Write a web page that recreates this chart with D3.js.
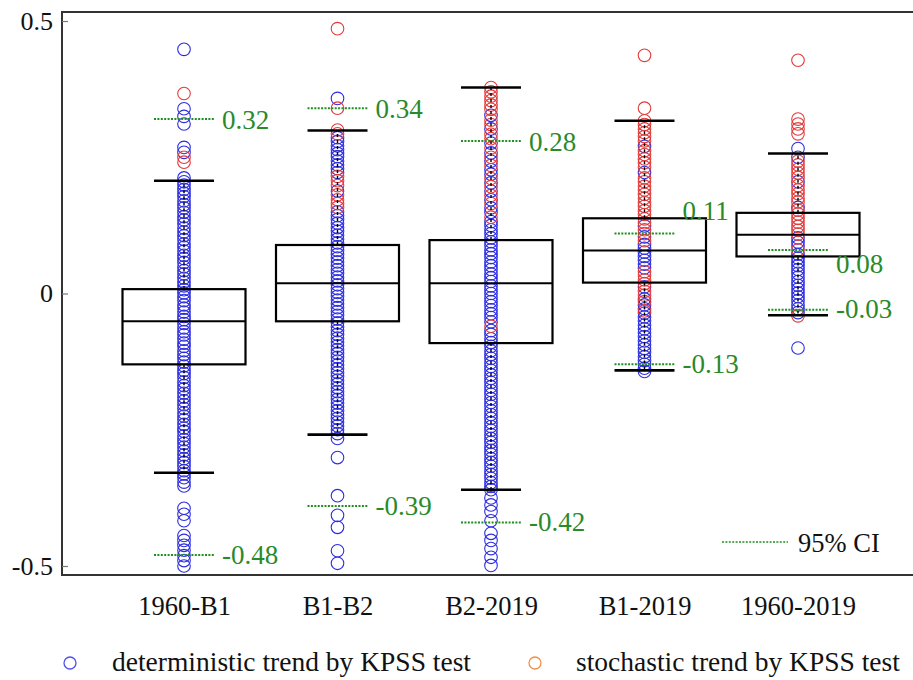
<!DOCTYPE html>
<html>
<head>
<meta charset="utf-8">
<script src="https://cdn.jsdelivr.net/npm/d3@7"></script>
<style>
  html, body { margin: 0; padding: 0; background: #fff; }
  svg { display: block; }
  svg text { font-family: "Liberation Serif", "DejaVu Serif", serif !important; }
</style>
</head>
<body>
<svg id="chart" width="913" height="680"></svg>
<script>
// Periods compared
const categories = ["1960-B1", "B1-B2", "B2-2019", "B1-2019", "1960-2019"];

// Box statistics per period
const whiskerHigh = [0.207, 0.299, 0.378, 0.317, 0.257];
const q3 = [0.008, 0.089, 0.098, 0.138, 0.148];
const median = [-0.051, 0.019, 0.019, 0.079, 0.108];
const q1 = [-0.130, -0.051, -0.091, 0.020, 0.068];
const whiskerLow = [-0.329, -0.259, -0.360, -0.141, -0.040];

// 95% confidence interval bounds
const ciHigh = [0.32, 0.34, 0.28, 0.11, 0.08];
const ciLow = [-0.48, -0.39, -0.42, -0.13, -0.03];

// Station trends, deterministic trend by KPSS test
const det1960B1 = [0.448, 0.339, 0.325, 0.311, 0.268, 0.259,
  0.212, 0.205, 0.199, 0.191, 0.184, 0.178, 0.170, 0.163, 0.157, 0.149, 0.141, 0.135, 0.128, 0.120,
  0.113, 0.106, 0.099, 0.091, 0.085, 0.078, 0.070, 0.064, 0.057, 0.049, 0.042, 0.036, 0.028, 0.021,
  0.014, 0.007, 0.001, -0.006, -0.013, -0.021, -0.027, -0.034, -0.042, -0.048, -0.055, -0.063, -0.070,
  -0.076, -0.084, -0.091, -0.097, -0.105, -0.112, -0.119, -0.126, -0.133, -0.141, -0.147, -0.154,
  -0.162, -0.169, -0.175, -0.183, -0.190, -0.197, -0.204, -0.211, -0.219, -0.225, -0.232, -0.240,
  -0.247, -0.253, -0.261, -0.268, -0.275, -0.282, -0.289, -0.296, -0.303, -0.310, -0.317, -0.325,
  -0.331, -0.338, -0.346, -0.353,
  -0.394, -0.405, -0.417, -0.444, -0.453, -0.462, -0.471, -0.481, -0.490, -0.500];
const detB1B2 = [0.358, 0.286, 0.279, 0.271, 0.264, 0.257, 0.251, 0.243, 0.236, 0.229, 0.222, 0.188,
  0.150, 0.143, 0.136, 0.129, 0.121, 0.114, 0.107, 0.100, 0.093, 0.086, 0.079, 0.072, 0.065, 0.058,
  0.051, 0.044, 0.037, 0.030, 0.023, 0.016, 0.009, 0.002, -0.005, -0.012, -0.019, -0.026, -0.033,
  -0.040, -0.047, -0.054, -0.061, -0.068, -0.075, -0.082, -0.089, -0.096, -0.103, -0.110, -0.117,
  -0.124, -0.131, -0.138, -0.145, -0.152, -0.159, -0.166, -0.173, -0.180, -0.187, -0.194, -0.201,
  -0.208, -0.215, -0.222, -0.229, -0.236, -0.243, -0.250, -0.257, -0.266,
  -0.301, -0.371, -0.407, -0.429, -0.472, -0.495];
const detB22019 = [0.327, 0.302, 0.276, 0.258, 0.243, 0.227, 0.219, 0.203, 0.188, 0.172, 0.157, 0.149,
  0.132, 0.125, 0.117, 0.110, 0.102, 0.095, 0.088, 0.080, 0.073, 0.066, 0.058, 0.051, 0.044, 0.036,
  0.029, 0.022, 0.014, 0.007, 0.000, -0.008, -0.015, -0.022, -0.030, -0.037, -0.044, -0.052, -0.068,
  -0.075, -0.083, -0.090, -0.097, -0.105, -0.112, -0.119, -0.127, -0.134, -0.141, -0.149, -0.156,
  -0.163, -0.171, -0.178, -0.185, -0.193, -0.200, -0.207, -0.215, -0.222, -0.229, -0.237, -0.244,
  -0.251, -0.259, -0.266, -0.273, -0.281, -0.288, -0.295, -0.303, -0.310, -0.317, -0.325, -0.332,
  -0.339, -0.347, -0.354, -0.360, -0.375, -0.388, -0.400, -0.417, -0.440, -0.453, -0.468, -0.484, -0.499];
const detB12019 = [0.270, 0.222, 0.124, 0.104, 0.090, 0.083, 0.076, 0.068, 0.061, 0.054, 0.047, 0.012,
  -0.010, -0.021, -0.028, -0.036, -0.043, -0.050, -0.058, -0.065, -0.072, -0.079, -0.087, -0.094,
  -0.101, -0.108, -0.116, -0.123, -0.130, -0.137, -0.143];
const det19602019 = [0.266, 0.250, 0.205, 0.158, 0.102, 0.094, 0.087, 0.072, 0.065, 0.058, 0.051, 0.044,
  0.037, 0.030, 0.022, 0.015, 0.008, 0.001, -0.006, -0.013, -0.021, -0.028, -0.035, -0.100];

// Station trends, stochastic trend by KPSS test
const sto1960B1 = [0.367, 0.250, 0.241];
const stoB1B2 = [0.486, 0.340, 0.300, 0.293, 0.215, 0.207, 0.198, 0.181, 0.172, 0.165, 0.158];
const stoB22019 = [0.378, 0.370, 0.362, 0.354, 0.346, 0.338, 0.318, 0.310, 0.292, 0.284, 0.267, 0.250,
  0.235, 0.211, 0.196, 0.180, 0.165, 0.140, -0.060];
const stoB12019 = [0.437, 0.340, 0.317, 0.310, 0.302, 0.295, 0.288, 0.280, 0.262, 0.255, 0.247, 0.240,
  0.232, 0.212, 0.205, 0.197, 0.190, 0.182, 0.175, 0.167, 0.160, 0.152, 0.145, 0.137, 0.130, 0.117,
  0.110, 0.097, 0.040, 0.033, 0.025, 0.018, 0.004, -0.003, -0.015, -0.032];
const sto19602019 = [0.428, 0.320, 0.311, 0.302, 0.293, 0.243, 0.236, 0.228, 0.221, 0.213, 0.198, 0.190,
  0.183, 0.175, 0.168, 0.153, 0.146, 0.138, 0.131, 0.123, 0.116, 0.109, 0.080, -0.041];

const deterministic = [det1960B1, detB1B2, detB22019, detB12019, det19602019];
const stochastic = [sto1960B1, stoB1B2, stoB22019, stoB12019, sto19602019];

// Y-axis tick labels
const yTicks = [-0.5, 0, 0.5];
const yTickLabels = ["-0.5", "0", "0.5"];

const legendLabels = ["deterministic trend by KPSS test", "stochastic trend by KPSS test"];
const ciLegendLabel = "95% CI";

// ---- layout ----
const serif = '"Liberation Serif", "DejaVu Serif", serif';
const svg = d3.select("#chart");
const frame = { left: 62, right: 915, top: 12, bottom: 575 };
const x = d3.scalePoint().domain(categories).range([184, 798]);
const y = d3.scaleLinear().domain([-0.5, 0.5]).range([566, 21]);
const boxHalf = 61.5, capHalf = 30, pointR = 6.3;
const blue = "#2d2de0", red = "#e23a3a", green = "#1f8f1f", greenText = "#2a8a2a";

// frame
svg.append("rect")
  .attr("x", frame.left).attr("y", frame.top)
  .attr("width", frame.right - frame.left).attr("height", frame.bottom - frame.top)
  .attr("fill", "none").attr("stroke", "#333").attr("stroke-width", 2);

// y axis (ticks point inward)
const yAxis = svg.append("g")
  .attr("transform", `translate(${frame.left},0)`)
  .call(d3.axisLeft(y).tickValues(yTicks).tickSize(-6).tickPadding(9)
    .tickFormat(d => yTickLabels[yTicks.indexOf(d)]));
yAxis.attr("font-family", null);
yAxis.select(".domain").remove();
yAxis.selectAll(".tick line").attr("stroke", "#777").attr("stroke-width", 1.2);
yAxis.selectAll(".tick text").attr("font-size", 26).attr("fill", "#111").style("font-family", serif);

// x axis labels
const xAxis = svg.append("g")
  .attr("transform", `translate(0,${frame.bottom})`)
  .call(d3.axisBottom(x).tickSize(0).tickPadding(21));
xAxis.attr("font-family", null);
xAxis.select(".domain").remove();
xAxis.selectAll(".tick text").attr("font-size", 26.5).attr("fill", "#111").style("font-family", serif);

// station points
categories.forEach((cat, i) => {
  const g = svg.append("g");
  g.selectAll("circle.det").data(deterministic[i]).join("circle")
    .attr("class", "det")
    .attr("cx", x(cat)).attr("cy", d => y(d)).attr("r", pointR)
    .attr("fill", "none").attr("stroke", blue).attr("stroke-width", 1.1);
  g.selectAll("circle.sto").data(stochastic[i]).join("circle")
    .attr("class", "sto")
    .attr("cx", x(cat)).attr("cy", d => y(d)).attr("r", pointR)
    .attr("fill", "none").attr("stroke", red).attr("stroke-width", 1.1);
});

// box plots
const boxes = svg.append("g");
categories.forEach((cat, i) => {
  const cx = x(cat);
  // dashed whiskers
  [[q3[i], whiskerHigh[i]], [q1[i], whiskerLow[i]]].forEach(([a, b]) => {
    boxes.append("line")
      .attr("x1", cx).attr("x2", cx).attr("y1", y(a)).attr("y2", y(b))
      .attr("stroke", "#000").attr("stroke-width", 1.4).attr("stroke-dasharray", "3,3");
  });
  // caps
  [whiskerHigh[i], whiskerLow[i]].forEach(v => {
    boxes.append("line")
      .attr("x1", cx - capHalf).attr("x2", cx + capHalf).attr("y1", y(v)).attr("y2", y(v))
      .attr("stroke", "#000").attr("stroke-width", 2.6);
  });
  // box and median
  boxes.append("rect")
    .attr("x", cx - boxHalf).attr("y", y(q3[i]))
    .attr("width", boxHalf * 2).attr("height", y(q1[i]) - y(q3[i]))
    .attr("fill", "none").attr("stroke", "#000").attr("stroke-width", 2.2);
  boxes.append("line")
    .attr("x1", cx - boxHalf).attr("x2", cx + boxHalf)
    .attr("y1", y(median[i])).attr("y2", y(median[i]))
    .attr("stroke", "#000").attr("stroke-width", 2);
});

// confidence interval markers and labels
const labelDy = { high: [10, 10, 10, -14, 23], low: [9, 9, 9, 9, 8] };
const ci = svg.append("g");
categories.forEach((cat, i) => {
  const cx = x(cat);
  [["high", ciHigh[i]], ["low", ciLow[i]]].forEach(([k, v]) => {
    ci.append("line")
      .attr("x1", cx - capHalf).attr("x2", cx + capHalf).attr("y1", y(v)).attr("y2", y(v))
      .attr("stroke", green).attr("stroke-width", 2).attr("stroke-dasharray", "2,1.4");
    ci.append("text")
      .attr("x", cx + 38).attr("y", y(v) + labelDy[k][i])
      .attr("font-size", 27).attr("fill", greenText).style("font-family", serif)
      .text(v.toFixed(2));
  });
});

// CI legend inside the plot
svg.append("line")
  .attr("x1", 722).attr("x2", 788).attr("y1", 542).attr("y2", 542)
  .attr("stroke", green).attr("stroke-width", 1.6).attr("stroke-dasharray", "2,1.4");
svg.append("text").attr("x", 798).attr("y", 552)
  .attr("font-size", 26.5).attr("fill", "#111").style("font-family", serif).text(ciLegendLabel);

// bottom legend
const legendItems = [
  { label: legendLabels[0], color: "#5050ee", cx: 70, tx: 112 },
  { label: legendLabels[1], color: "#f09050", cx: 535, tx: 576 }
];
const lg = svg.append("g");
legendItems.forEach(d => {
  lg.append("circle").attr("cx", d.cx).attr("cy", 663).attr("r", 6)
    .attr("fill", "none").attr("stroke", d.color).attr("stroke-width", 1.3);
  lg.append("text").attr("x", d.tx).attr("y", 671)
    .attr("font-size", 27.5).attr("fill", "#111").style("font-family", serif).text(d.label);
});
</script>
</body>
</html>
